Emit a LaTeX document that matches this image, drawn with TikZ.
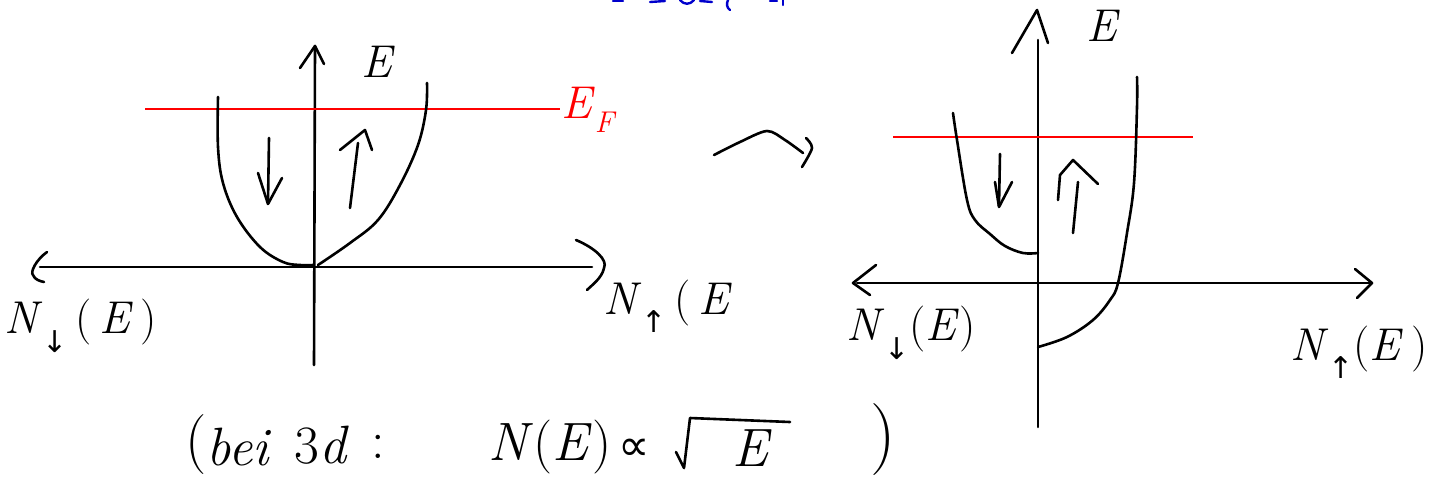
\documentclass[tikz,border=0pt]{standalone}
\usepackage{fontspec}
\newfontfamily\symf{DejaVu Sans}
\newcommand{\dn}{\raisebox{-0.4em}{\symf\fontsize{30}{30}\selectfont ↓}}
\newcommand{\up}{\raisebox{-0.4em}{\symf\fontsize{30}{30}\selectfont ↑}}
\begin{document}
\begin{tikzpicture}[x=1pt,y=-1pt,
  ink/.style={line width=2.6pt,line cap=round,line join=round},
  fermi/.style={red,line width=2.2pt},
  memo/.style={blue!80!black,line width=2.4pt,line cap=round},
  lbl/.style={inner sep=0pt,font=\fontsize{46}{50}\selectfont},
  note/.style={inner sep=0pt,font=\fontsize{54}{58}\selectfont}]
\useasboundingbox (0,0) rectangle (1431,483);
% ---------- left diagram ----------
\coordinate (lvb) at (314,365);
\coordinate (lvt) at (315,46);
\coordinate (lhl) at (40,267);
\coordinate (lhr) at (592,267);
\draw[ink] (lvb) -- (lvt);
\draw[ink] (300,68) -- (lvt) -- (324,64);
\draw[ink] (lhl) -- (lhr);
\draw[ink] (47,252) .. controls (36,260) and (30,272) .. (33,275) .. controls (35,280) and (40,281) .. (44,282);
\draw[ink] (576,240) .. controls (595,248) and (608,260) .. (604,268) .. controls (602,278) and (592,285) .. (587,290);
\coordinate (efl) at (145,109);
\coordinate (efr) at (560,109);
\draw[fermi] (efl) -- (efr);
\node[lbl,red,anchor=west] (ef) at (561,110) {\textit{E}\raisebox{-0.3em}{\fontsize{30}{30}\selectfont\textit{F}}};
\node[lbl,anchor=center] (le) at (378,62) {\textit{E}};
\draw[ink] plot[smooth,tension=0.6] coordinates {(218,97) (218,147) (223,183) (237,217) (260,247) (283,262) (300,265) (313,265)};
\draw[ink] plot[smooth,tension=0.6] coordinates {(318,265) (350,243) (378,220) (400,185) (418,145) (426,110) (427,83)};
\draw[ink] (269,138) -- (268,203);
\draw[ink] (258,173) -- (268,204) -- (282,178);
\draw[ink] (350,208) -- (358,143);
\draw[ink] (340,150) -- (365,130) -- (372,150);
\node[lbl,anchor=west] (lnd) at (4,326) {\textit{N}\dn\,(\,\textit{E}\,)};
\node[lbl,anchor=west] (lnu) at (603,306) {\textit{N}\up\,(\,\textit{E}};
% ---------- transition mark ----------
\draw[ink] plot[smooth] coordinates {(714,155) (740,142) (767,131) (785,140) (803,153)};
\draw[ink] plot[smooth] coordinates {(806,138) (812,148) (802,167)};
% ---------- right diagram ----------
\coordinate (rvb) at (1038,427);
\coordinate (rvt) at (1038,40);
\coordinate (rhl) at (857,283);
\coordinate (rhr) at (1370,283);
\draw[ink] (rvb) -- (rvt);
\draw[ink] (1012,53) -- (1037,10) -- (1048,43);
\draw[ink] (rhl) -- (rhr);
\draw[ink] (876,265) -- (853,283) -- (870,295);
\draw[ink] (1355,269) -- (1372,283) -- (1357,298);
\coordinate (rfl) at (893,137);
\coordinate (rfr) at (1193,137);
\draw[fermi] (rfl) -- (rfr);
\node[lbl,anchor=center] (re) at (1103,26) {\textit{E}};
\draw[ink] plot[smooth,tension=0.6] coordinates {(953,113) (957,140) (967,200) (975,220) (990,234) (1005,246) (1023,253) (1038,253)};
\draw[ink] plot[smooth,tension=0.6] coordinates {(1038,347) (1067,337) (1093,320) (1110,300) (1118,283) (1127,233) (1134,183) (1137,107) (1137,77)};
\draw[ink] (1000,154) -- (999,206);
\draw[ink] (995,182) -- (999,207) -- (1012,182);
\draw[ink] (1073,233) -- (1078,182);
\draw[ink] (1058,200) -- (1060,175) -- (1073,160) -- (1098,184);
\node[lbl,anchor=west] (rnd) at (846,333) {\textit{N}\dn(\textit{E})};
\node[lbl,anchor=west] (rnu) at (1290,352) {\textit{N}\up(\textit{E}\,)};
% ---------- bottom note ----------
\node[note,anchor=center,font=\fontsize{60}{64}\selectfont] (bp1) at (196,445) {(};
\node[note,anchor=center] (bb) at (238,447) {\itshape bei};
\node[note,anchor=center] (b3) at (322,445) {3\textit{d}};
\node[note,anchor=center] (bc) at (378,447) {:};
\node[note,anchor=center] (bn) at (550,447) {\textit{N}(\textit{E})};
\node[note,anchor=center,font=\symf\fontsize{44}{48}\selectfont] (bpr) at (634,450) {∝};
\draw[ink] (676,452) -- (684,468) -- (690,418) -- (790,422);
\node[note,anchor=center] (bs) at (752,448) {\textit{E}};
\node[note,anchor=center,font=\fontsize{72}{76}\selectfont] (bp2) at (883,440) {)};
% ---------- cut-off blue note at top ----------
\draw[memo] (613,1) -- (623,1);
\draw[memo] (650,2) -- (665,1);
\draw[memo] (680,0) .. controls (684,5) and (690,5) .. (694,0);
\draw[memo] (700,1) -- (712,2);
\draw[memo] (728,0) .. controls (726,4) and (727,8) .. (730,10);
\draw[memo] (770,1) -- (777,1);
\draw[memo] (783,0) -- (783,5);
\end{tikzpicture}
\end{document}
